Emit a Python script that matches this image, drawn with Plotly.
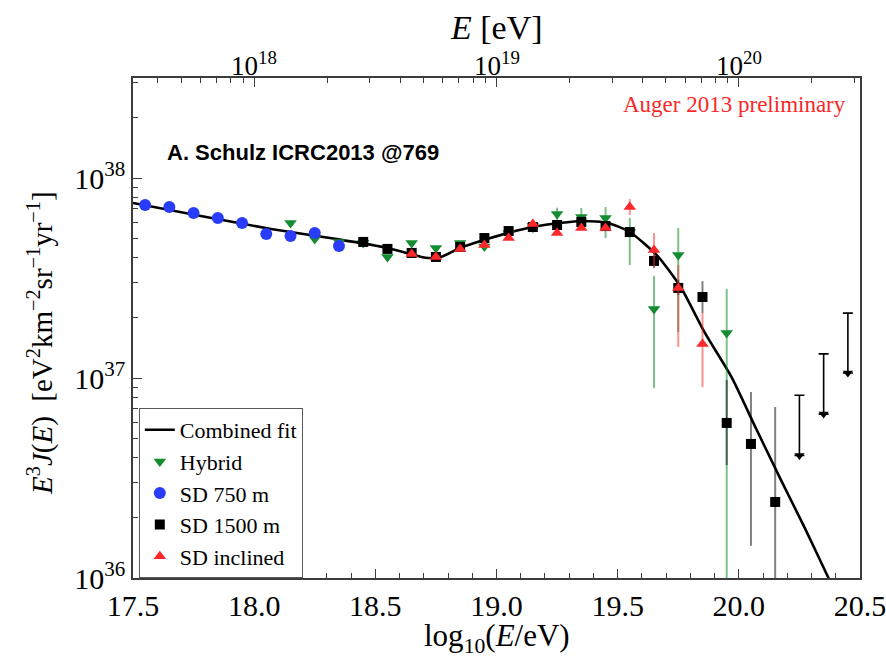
import math
import plotly.graph_objects as go

# ---------------- data ----------------
fit_x = [17.50, 17.78, 18.07, 18.34, 18.55, 18.69, 18.72, 18.77, 18.85, 18.96, 19.06, 19.15,
         19.26, 19.36, 19.46, 19.55, 19.665, 19.76, 19.86, 19.97, 20.07, 20.17, 20.27, 20.37, 20.39]
fit_y = [7.50e37, 6.46e37, 5.56e37, 4.95e37, 4.47e37, 4.03e37, 3.98e37, 4.03e37, 4.47e37, 4.95e37,
         5.37e37, 5.69e37, 5.96e37, 6.10e37, 5.96e37, 5.37e37, 4.07e37, 2.85e37, 1.68e37, 1.01e37,
         5.62e36, 3.16e36, 1.80e36, 1.00e36, 8.90e35]

sd750_x = [17.55, 17.65, 17.75, 17.85, 17.95, 18.05, 18.15, 18.25, 18.35]
sd750_y = [7.33e37, 7.16e37, 6.68e37, 6.31e37, 5.96e37, 5.25e37, 5.13e37, 5.31e37, 4.57e37]

hyb_x = [18.15, 18.25, 18.35, 18.45, 18.55, 18.65, 18.75, 18.85, 18.95, 19.05, 19.15, 19.25,
         19.35, 19.45, 19.55, 19.65, 19.75, 19.95]
hyb_y = [5.96e37, 4.95e37, 4.79e37, 4.73e37, 4.03e37, 4.73e37, 4.47e37, 4.73e37, 4.55e37, 5.30e37,
         5.75e37, 6.61e37, 6.38e37, 6.31e37, 5.37e37, 2.21e37, 4.12e37, 1.68e37]
hyb_hi = [5.96e37, 4.95e37, 4.79e37, 4.73e37, 4.03e37, 4.73e37, 4.47e37, 4.73e37, 4.55e37, 5.60e37,
          6.20e37, 7.10e37, 7.08e37, 7.16e37, 6.31e37, 3.24e37, 5.62e37, 2.79e37]
hyb_lo = [5.96e37, 4.95e37, 4.79e37, 4.73e37, 4.03e37, 4.73e37, 4.47e37, 4.73e37, 4.55e37, 5.00e37,
          5.30e37, 6.00e37, 5.69e37, 5.01e37, 3.67e37, 8.90e36, 1.70e37, 1.00e35]

sd1500_x = [18.45, 18.55, 18.65, 18.75, 18.85, 18.95, 19.05, 19.15, 19.25, 19.35, 19.45, 19.55,
            19.65, 19.75, 19.85, 19.95, 20.05, 20.15]
sd1500_y = [4.79e37, 4.42e37, 4.22e37, 4.03e37, 4.52e37, 5.01e37, 5.43e37, 5.69e37, 5.82e37, 6.03e37,
            5.75e37, 5.37e37, 3.85e37, 2.82e37, 2.54e37, 5.96e36, 4.68e36, 2.40e36]
sd1500_hi = [4.79e37, 4.42e37, 4.22e37, 4.03e37, 4.52e37, 5.01e37, 5.43e37, 5.69e37, 5.82e37, 6.03e37,
             5.75e37, 5.37e37, 4.15e37, 3.10e37, 3.05e37, 9.77e36, 8.51e36, 7.16e36]
sd1500_lo = [4.79e37, 4.42e37, 4.22e37, 4.03e37, 4.52e37, 5.01e37, 5.43e37, 5.69e37, 5.82e37, 6.03e37,
             5.75e37, 5.37e37, 3.55e37, 2.60e37, 2.11e37, 3.67e36, 1.45e36, 1.00e35]

incl_x = [18.65, 18.75, 18.85, 18.95, 19.05, 19.15, 19.25, 19.35, 19.45, 19.55, 19.65, 19.75, 19.85]
incl_y = [4.17e37, 4.03e37, 4.42e37, 4.62e37, 5.01e37, 5.89e37, 5.31e37, 5.62e37, 5.62e37, 7.16e37,
          4.37e37, 2.82e37, 1.48e37]
incl_hi = [4.17e37, 4.03e37, 4.42e37, 4.62e37, 5.01e37, 5.89e37, 5.31e37, 5.62e37, 5.62e37, 7.85e37,
           5.31e37, 3.67e37, 2.11e37]
incl_lo = [4.17e37, 4.03e37, 4.42e37, 4.62e37, 5.01e37, 5.89e37, 5.31e37, 5.62e37, 5.62e37, 6.53e37,
           3.60e37, 1.43e37, 9.00e36]

# upper limits (SD 1500 m): cap value and arrow tip value
ul_x = [20.25, 20.35, 20.45]
ul_cap = [8.2e36, 1.32e37, 2.11e37]
ul_tip = [4.1e36, 6.6e36, 1.06e37]

y_ticks = [1e36, 1e37, 1e38]
y_ticktext = ["10<sup>36</sup>", "10<sup>37</sup>", "10<sup>38</sup>"]
x_ticks = [17.5, 18.0, 18.5, 19.0, 19.5, 20.0, 20.5]
x_ticktext = ["17.5", "18.0", "18.5", "19.0", "19.5", "20.0", "20.5"]
top_ticks = [18, 19, 20]
top_ticktext = ["10<sup>18</sup>", "10<sup>19</sup>", "10<sup>20</sup>"]

x_title = "log<sub>10</sub>(<i>E</i>/eV)"
top_title = "<i>E</i> [eV]"
y_title = ("<i>E</i><sup>3</sup><i>J</i>(<i>E</i>)  [eV<sup>2</sup>km<sup>−2</sup>"
           "sr<sup>−1</sup>yr<sup>−1</sup>]")

# ---------------- styles ----------------
SERIF = "Liberation Serif"
GREEN = "rgb(20,140,50)"
BLUE = "rgb(40,60,250)"
RED = "rgb(250,40,40)"


def up(v, hi):
    return [h - a for a, h in zip(v, hi)]


def down(v, lo):
    return [a - l for a, l in zip(v, lo)]


fig = go.Figure()

fig.add_trace(go.Scatter(x=fit_x, y=fit_y, mode="lines", name="Combined fit",
                         line=dict(color="black", width=2.6, shape="spline", smoothing=0.6)))

fig.add_trace(go.Scatter(x=hyb_x, y=hyb_y, mode="markers", name="Hybrid",
                         marker=dict(symbol="triangle-down", size=11, color=GREEN),
                         error_y=dict(type="data", symmetric=False, array=up(hyb_y, hyb_hi),
                                      arrayminus=down(hyb_y, hyb_lo), color="rgba(20,140,50,0.55)",
                                      thickness=2, width=0)))

fig.add_trace(go.Scatter(x=sd750_x, y=sd750_y, mode="markers", name="SD 750 m",
                         marker=dict(symbol="circle", size=12, color=BLUE)))

fig.add_trace(go.Scatter(x=sd1500_x, y=sd1500_y, mode="markers", name="SD 1500 m",
                         marker=dict(symbol="square", size=10, color="black"),
                         error_y=dict(type="data", symmetric=False, array=up(sd1500_y, sd1500_hi),
                                      arrayminus=down(sd1500_y, sd1500_lo), color="rgba(0,0,0,0.5)",
                                      thickness=2, width=0)))

fig.add_trace(go.Scatter(x=incl_x, y=incl_y, mode="markers", name="SD inclined",
                         marker=dict(symbol="triangle-up", size=11, color=RED),
                         error_y=dict(type="data", symmetric=False, array=up(incl_y, incl_hi),
                                      arrayminus=down(incl_y, incl_lo), color="rgba(250,40,40,0.5)",
                                      thickness=2, width=0)))

fig.add_trace(go.Scatter(x=ul_x, y=ul_tip, mode="markers", showlegend=False,
                         marker=dict(symbol="triangle-down", size=9, color="black"),
                         error_y=dict(type="data", symmetric=False, array=up(ul_tip, ul_cap),
                                      arrayminus=[0, 0, 0], color="black", thickness=1.6, width=5)))

# dummy trace for top axis
fig.add_trace(go.Scatter(x=[18], y=[1e37], xaxis="x2", mode="markers", showlegend=False,
                         marker=dict(opacity=0), hoverinfo="skip"))

top_minor = []
for n in (17, 18, 19, 20):
    for k in range(2, 10):
        v = n + math.log10(k)
        if 17.5 <= v <= 20.5:
            top_minor.append(v)

x_minor = [round(17.5 + 0.1 * i, 2) for i in range(31)]
y_minor = [k * 10.0 ** n for n in (36, 37, 38) for k in range(2, 10) if k * 10.0 ** n <= 10.0 ** 38.5]

axis_common = dict(showline=True, linecolor="rgb(60,60,60)", linewidth=1.5, ticks="inside",
                   tickcolor="rgb(60,60,60)", showgrid=False, zeroline=False, automargin=False,
                   ticklabeloverflow="allow",
                   tickfont=dict(family=SERIF, size=30, color="black"))

annotations = [
    dict(text="Auger 2013 preliminary", xref="paper", yref="paper", x=0.983, y=0.977,
         xanchor="right", yanchor="top", showarrow=False,
         font=dict(family=SERIF, size=23, color="rgb(250,40,40)")),
    dict(text="<b>A. Schulz ICRC2013 @769</b>", xref="paper", yref="paper", x=0.044, y=0.852,
         xanchor="left", yanchor="middle", showarrow=False,
         font=dict(family="Liberation Sans", size=22, color="black")),
    # axis titles
    dict(text=x_title, xref="paper", yref="paper", x=0.5, y=-0.12, xanchor="center",
         yanchor="middle", showarrow=False, font=dict(family=SERIF, size=31, color="black")),
    dict(text=top_title, xref="paper", yref="paper", x=0.5, y=1.1, xanchor="center",
         yanchor="middle", showarrow=False, font=dict(family=SERIF, size=34, color="black")),
    dict(text=y_title, xref="paper", yref="paper", x=-0.128, y=0.47, xanchor="center",
         yanchor="middle", textangle=-90, showarrow=False,
         font=dict(family=SERIF, size=29, color="black")),
]
# top-axis tick labels (E in eV)
for tv, tt in zip(top_ticks, top_ticktext):
    annotations.append(dict(text=tt, xref="x", yref="paper", x=tv, y=1.028, xanchor="center",
                            yanchor="middle", showarrow=False,
                            font=dict(family=SERIF, size=27, color="black")))

fig.update_layout(
    width=886, height=658,
    margin=dict(l=133, r=26, t=78, b=80),
    plot_bgcolor="white", paper_bgcolor="white",
    showlegend=True,
    xaxis=dict(range=[17.5, 20.5], tickmode="array", tickvals=x_ticks, ticktext=x_ticktext,
               ticklen=9, mirror=False,
               minor=dict(tickmode="array", tickvals=x_minor, ticks="inside", ticklen=5,
                          tickcolor="rgb(60,60,60)"),
               **axis_common),
    xaxis2=dict(range=[17.5, 20.5], overlaying="x", side="top", tickmode="array",
                tickvals=top_ticks, ticktext=top_ticktext, ticklen=9, showticklabels=False,
                minor=dict(tickmode="array", tickvals=top_minor, ticks="inside", ticklen=5,
                           tickcolor="rgb(60,60,60)"),
                **axis_common),
    yaxis=dict(type="log", range=[36, 38.5], tickmode="array", tickvals=y_ticks, ticktext=y_ticktext,
               ticklen=9, mirror=True,
               minor=dict(tickmode="array", tickvals=y_minor, ticks="inside", ticklen=5,
                          tickcolor="rgb(60,60,60)"),
               **axis_common),
    legend=dict(x=0.008, y=0.0, xanchor="left", yanchor="bottom",
                bordercolor="rgb(90,90,90)", borderwidth=1, bgcolor="white",
                font=dict(family=SERIF, size=22, color="black"), tracegroupgap=0,
                itemwidth=30),
    annotations=annotations,
)

fig.write_html("out.html")
